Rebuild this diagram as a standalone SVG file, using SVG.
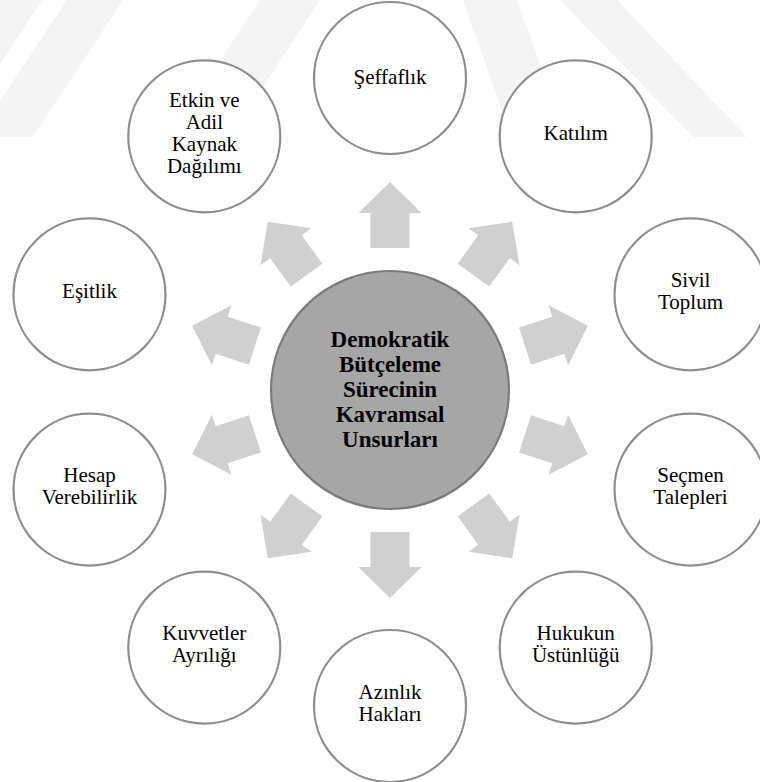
<svg xmlns="http://www.w3.org/2000/svg" xmlns:xlink="http://www.w3.org/1999/xlink" width="760" height="782" viewBox="0 0 760 782">
<style>
.wm{fill:#f4f4f4}
.node circle{fill:#ffffff;stroke:#8e8e8e;stroke-width:2.2}
.node text{font-family:"Liberation Serif","Times New Roman",serif;font-size:21px;fill:#000;text-anchor:middle}
.arrow{fill:#d0d0d0}
#center circle{fill:#a6a6a6;stroke:#7b7b7b;stroke-width:2.2}
#center text{font-family:"Liberation Serif","Times New Roman",serif;font-size:23px;font-weight:bold;fill:#000;text-anchor:middle}
</style>
<defs>
<polygon id="arr" points="-19.5,-142 19.5,-142 19.5,-177 31.5,-177 0,-208 -31.5,-177 -19.5,-177"/>
</defs>
<rect width="760" height="782" fill="#ffffff"/>
<g id="watermark">
<polygon class="wm" points="0,0 42,0 0,64"/>
<polygon class="wm" points="67,0 123,0 33,137 0,137 0,101"/>
<polygon class="wm" points="260,0 320,0 230,137 170,137"/>
<polygon class="wm" points="463,0 517,0 560,120 505,120"/>
<polygon class="wm" points="560,0 617,0 747,137 693,137"/>
</g>
<g id="connectors">
<use xlink:href="#arr" class="arrow" transform="translate(390,390) rotate(0)"/>
<use xlink:href="#arr" class="arrow" transform="translate(390,390) rotate(36)"/>
<use xlink:href="#arr" class="arrow" transform="translate(390,390) rotate(72)"/>
<use xlink:href="#arr" class="arrow" transform="translate(390,390) rotate(108)"/>
<use xlink:href="#arr" class="arrow" transform="translate(390,390) rotate(144)"/>
<use xlink:href="#arr" class="arrow" transform="translate(390,390) rotate(180)"/>
<use xlink:href="#arr" class="arrow" transform="translate(390,390) rotate(216)"/>
<use xlink:href="#arr" class="arrow" transform="translate(390,390) rotate(252)"/>
<use xlink:href="#arr" class="arrow" transform="translate(390,390) rotate(288)"/>
<use xlink:href="#arr" class="arrow" transform="translate(390,390) rotate(324)"/>
</g>
<g id="center">
<circle cx="390" cy="390" r="119"/>
<text x="390" y="347">Demokratik</text>
<text x="390" y="372">Bütçeleme</text>
<text x="390" y="397">Sürecinin</text>
<text x="390" y="422">Kavramsal</text>
<text x="390" y="447">Unsurları</text>
</g>
<g id="n-seffaflik" class="node">
<circle cx="390" cy="78" r="76"/>
<text x="390" y="84">Şeffaflık</text>
</g>
<g id="n-katilim" class="node">
<circle cx="575.7" cy="136.4" r="76"/>
<text x="575.7" y="140">Katılım</text>
</g>
<g id="n-sivil" class="node">
<circle cx="690.5" cy="294.4" r="76"/>
<text x="690.5" y="287">Sivil</text>
<text x="690.5" y="309">Toplum</text>
</g>
<g id="n-secmen" class="node">
<circle cx="690.5" cy="489.6" r="76"/>
<text x="690.5" y="482">Seçmen</text>
<text x="690.5" y="504">Talepleri</text>
</g>
<g id="n-hukuk" class="node">
<circle cx="575.7" cy="647.6" r="76"/>
<text x="575.7" y="640">Hukukun</text>
<text x="575.7" y="662">Üstünlüğü</text>
</g>
<g id="n-azinlik" class="node">
<circle cx="390" cy="706" r="76"/>
<text x="390" y="699">Azınlık</text>
<text x="390" y="721">Hakları</text>
</g>
<g id="n-kuvvet" class="node">
<circle cx="204.3" cy="647.6" r="76"/>
<text x="204.3" y="640">Kuvvetler</text>
<text x="204.3" y="662">Ayrılığı</text>
</g>
<g id="n-hesap" class="node">
<circle cx="89.5" cy="489.6" r="76"/>
<text x="89.5" y="482">Hesap</text>
<text x="89.5" y="504">Verebilirlik</text>
</g>
<g id="n-esitlik" class="node">
<circle cx="89.5" cy="294.4" r="76"/>
<text x="89.5" y="298">Eşitlik</text>
</g>
<g id="n-etkin" class="node">
<circle cx="204.3" cy="136.4" r="76"/>
<text x="204.3" y="107">Etkin ve</text>
<text x="204.3" y="129">Adil</text>
<text x="204.3" y="151">Kaynak</text>
<text x="204.3" y="173">Dağılımı</text>
</g>
</svg>
